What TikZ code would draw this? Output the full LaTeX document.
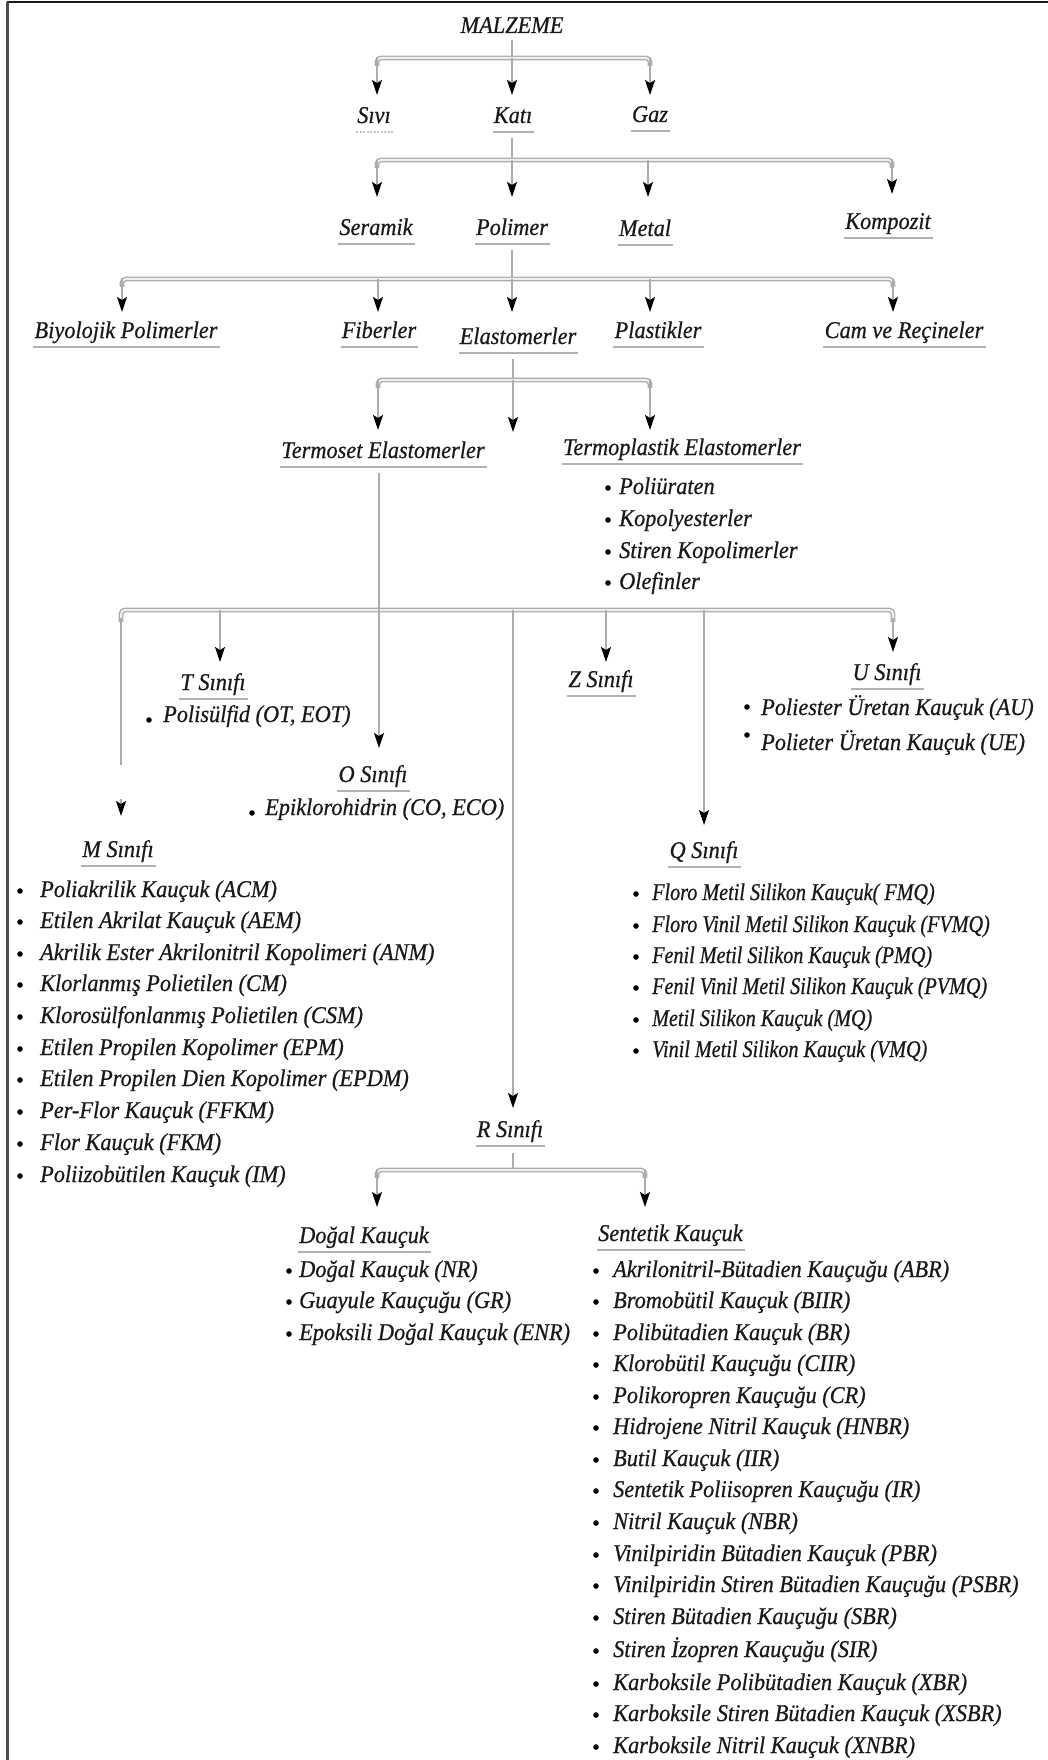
\documentclass[tikz,border=0pt]{standalone}
\usepackage{fontspec}
\setmainfont{Liberation Serif}[FakeStretch=0.93,FakeBold=0.6]
\newfontfamily\qfont{Liberation Serif}[FakeStretch=0.84,FakeBold=0.6]
\usetikzlibrary{arrows.meta}
\begin{document}
\begin{tikzpicture}[x=1pt,y=-1pt,
  txt/.style={inner sep=0pt, text=black!90, font=\fontsize{24}{28}\selectfont\itshape},
  hd/.style={txt, anchor=base},
  hdw/.style={txt, anchor=base west},
  item/.style={txt, anchor=base west},
  qitem/.style={item, font=\fontsize{24}{28}\selectfont\qfont\itshape},
  ln/.style={draw=gray!65, line width=1.4pt},
  arr/.style={ln, -{Stealth[length=15pt,width=10pt,inset=3pt,color=black]}},
  bar/.style={draw=gray!65, line width=1.4pt, double=gray!12, double distance=2pt, rounded corners=4pt},
  ul/.style={draw=gray!60, line width=1.8pt},
  bul/.style={fill=black}
]
\useasboundingbox (0,0) rectangle (1048,1760);
% frame
\draw[line width=2pt, black!90] (7,2.5) -- (1048,2.5);
\draw[line width=2.5pt, gray!60!black] (7.5,2) -- (7.5,1760);

% ---------- headings ----------
\node[hd] (malz) at (512,33) {MALZEME};
\node[hd] (sivi) at (374,123) {Sıvı};
\node[hd] (kati) at (513,123) {Katı};
\node[hd] (gaz)  at (650,122) {Gaz};
\node[hd] (ser)  at (376,235) {Seramik};
\node[hd] (pol)  at (512,235) {Polimer};
\node[hd] (met)  at (645,236) {Metal};
\node[hd] (komp) at (888,229) {Kompozit};
\node[hd] (biyo) at (126,338) {Biyolojik Polimerler};
\node[hd] (fib)  at (379,338) {Fiberler};
\node[hd] (elas) at (518,344) {Elastomerler};
\node[hd] (plas) at (658,338) {Plastikler};
\node[hd] (cam)  at (904,338) {Cam ve Reçineler};
\node[hd] (tse)  at (383,458) {Termoset Elastomerler};
\node[hd] (tpe)  at (682,455) {Termoplastik Elastomerler};
\node[hd] (tsin) at (213,690) {T Sınıfı};
\node[hd] (zsin) at (601,687) {Z Sınıfı};
\node[hd] (usin) at (887,680) {U Sınıfı};
\node[hd] (osin) at (373,782) {O Sınıfı};
\node[hd] (msin) at (118,857) {M Sınıfı};
\node[hd] (qsin) at (704,858) {Q Sınıfı};
\node[hd] (rsin) at (510,1137) {R Sınıfı};
\node[hdw] (dogal) at (299,1243) {Doğal Kauçuk};
\node[hdw] (sent)  at (598,1241) {Sentetik Kauçuk};

\draw[ul, gray!45, dash pattern=on 2pt off 1.5pt] ([xshift=-1pt,yshift=-9pt]sivi.base west) -- ([xshift=2pt,yshift=-9pt]sivi.base east);
\foreach \n in {kati,gaz,ser,pol,met,komp,biyo,fib,elas,plas,cam,tse,tpe,tsin,zsin,usin,osin,msin,qsin,rsin,dogal,sent}
  \draw[ul] ([xshift=-1pt,yshift=-9pt]\n.base west) -- ([xshift=2pt,yshift=-9pt]\n.base east);

% ---------- lists ----------
\foreach \yy/\t [count=\i] in {494/Poliüraten, 526/Kopolyesterler, 558/Stiren Kopolimerler, 589/Olefinler}{
  \node[item] (tp\i) at (619,\yy) {\t};
  \fill[bul] (608,{\yy-6}) circle (2.8pt);
}
\node[item] (ts1) at (163,722) {Polisülfid (OT, EOT)};
\fill[bul] (149,720) circle (2.8pt);
\node[item] (os1) at (265,815) {Epiklorohidrin (CO, ECO)};
\fill[bul] (252,813) circle (2.8pt);
\node[item] (us1) at (761,715) {Poliester Üretan Kauçuk (AU)};
\fill[bul] (747,707) circle (2.8pt);
\node[item] (us2) at (761,750) {Polieter Üretan Kauçuk (UE)};
\fill[bul] (747,735) circle (2.8pt);

\foreach \yy/\t [count=\i] in {
  897/{Poliakrilik Kauçuk (ACM)},
  928/{Etilen Akrilat Kauçuk (AEM)},
  960/{Akrilik Ester Akrilonitril Kopolimeri (ANM)},
  991/{Klorlanmış Polietilen (CM)},
  1023/{Klorosülfonlanmış Polietilen (CSM)},
  1055/{Etilen Propilen Kopolimer (EPM)},
  1086/{Etilen Propilen Dien Kopolimer (EPDM)},
  1118/{Per-Flor Kauçuk (FFKM)},
  1150/{Flor Kauçuk (FKM)},
  1182/{Poliizobütilen Kauçuk (IM)}}{
  \node[item] (ms\i) at (40,\yy) {\t};
  \fill[bul] (20,{\yy-6}) circle (2.8pt);
}
\foreach \yy/\t [count=\i] in {
  900/{Floro Metil Silikon Kauçuk( FMQ)},
  932/{Floro Vinil Metil Silikon Kauçuk (FVMQ)},
  963/{Fenil Metil Silikon Kauçuk (PMQ)},
  994/{Fenil Vinil Metil Silikon Kauçuk (PVMQ)},
  1026/{Metil Silikon Kauçuk (MQ)},
  1057/{Vinil Metil Silikon Kauçuk (VMQ)}}{
  \node[qitem] (qs\i) at (652,\yy) {\t};
  \fill[bul] (636,{\yy-6}) circle (2.8pt);
}
\foreach \yy/\t [count=\i] in {
  1277/{Doğal Kauçuk (NR)},
  1308/{Guayule Kauçuğu (GR)},
  1340/{Epoksili Doğal Kauçuk (ENR)}}{
  \node[item] (dk\i) at (299,\yy) {\t};
  \fill[bul] (289,{\yy-6}) circle (2.8pt);
}
\foreach \yy/\t [count=\i] in {
  1277/{Akrilonitril-Bütadien Kauçuğu (ABR)},
  1308/{Bromobütil Kauçuk (BIIR)},
  1340/{Polibütadien Kauçuk (BR)},
  1371/{Klorobütil Kauçuğu (CIIR)},
  1403/{Polikoropren Kauçuğu (CR)},
  1434/{Hidrojene Nitril Kauçuk (HNBR)},
  1466/{Butil Kauçuk (IIR)},
  1497/{Sentetik Poliisopren Kauçuğu (IR)},
  1529/{Nitril Kauçuk (NBR)},
  1561/{Vinilpiridin Bütadien Kauçuk (PBR)},
  1592/{Vinilpiridin Stiren Bütadien Kauçuğu (PSBR)},
  1624/{Stiren Bütadien Kauçuğu (SBR)},
  1657/{Stiren İzopren Kauçuğu (SIR)},
  1690/{Karboksile Polibütadien Kauçuk (XBR)},
  1721/{Karboksile Stiren Bütadien Kauçuk (XSBR)},
  1753/{Karboksile Nitril Kauçuk (XNBR)}}{
  \node[item] (sk\i) at (613,\yy) {\t};
  \fill[bul] (596,{\yy-6}) circle (2.8pt);
}

% ---------- connectors ----------
% level 1
\coordinate (b1) at (512,58);
\draw[ln] ([yshift=-7pt]malz.base -| b1) -- (b1);
\draw[bar] (377,66) |- (650,58) -- (650,66);
\draw[arr] (377,58) -- (377,95);
\draw[arr] (b1) -- (512,95);
\draw[arr] (650,58) -- (650,95);
% level 2
\coordinate (b2) at (512,160);
\draw[ln] ([yshift=-15pt]kati.base -| b2) -- (b2);
\draw[bar] (377,168) |- (892,160) -- (892,168);
\draw[arr] (377,160) -- (377,197);
\draw[arr] (b2) -- (512,197);
\draw[arr] (648,160) -- (648,197);
\draw[arr] (892,160) -- (892,194);
% level 3
\coordinate (b3) at (512,279);
\draw[ln] ([yshift=-15pt]pol.base -| b3) -- (b3);
\draw[bar] (122,287) |- (893,279) -- (893,287);
\draw[arr] (122,279) -- (122,312);
\draw[arr] (378,279) -- (378,312);
\draw[arr] (b3) -- (512,312);
\draw[arr] (650,279) -- (650,312);
\draw[arr] (893,279) -- (893,312);
% level 4
\coordinate (b4) at (513,380);
\draw[ln] ([yshift=-15pt]elas.base -| b4) -- (b4);
\draw[bar] (378,388) |- (650,380) -- (650,388);
\draw[arr] (378,380) -- (378,430);
\draw[arr] (b4) -- (513,432);
\draw[arr] (650,380) -- (650,430);
% level 5
\coordinate (b5) at (379,610);
\draw[bar] (121,622) |- (893,610) -- (893,622);
\draw[arr] ([yshift=-15pt]tse.base -| b5) -- (379,748);
\draw[ln] (121,618) -- (121,765);
\coordinate (mtop) at (121,799);
\draw[arr] (mtop) -- (121,816);
\draw[arr] (220,610) -- (220,662);
\draw[arr] (513,610) -- (513,1108);
\draw[arr] (606,610) -- (606,662);
\draw[arr] (704,610) -- (704,825);
\draw[arr] (893,618) -- (893,652);
% level 6
\coordinate (b6) at (513,1170);
\draw[ln] ([yshift=-16pt]rsin.base -| b6) -- (b6);
\draw[bar] (377,1178) |- (645,1170) -- (645,1178);
\draw[arr] (377,1170) -- (377,1207);
\draw[arr] (645,1170) -- (645,1207);
\end{tikzpicture}
\end{document}
